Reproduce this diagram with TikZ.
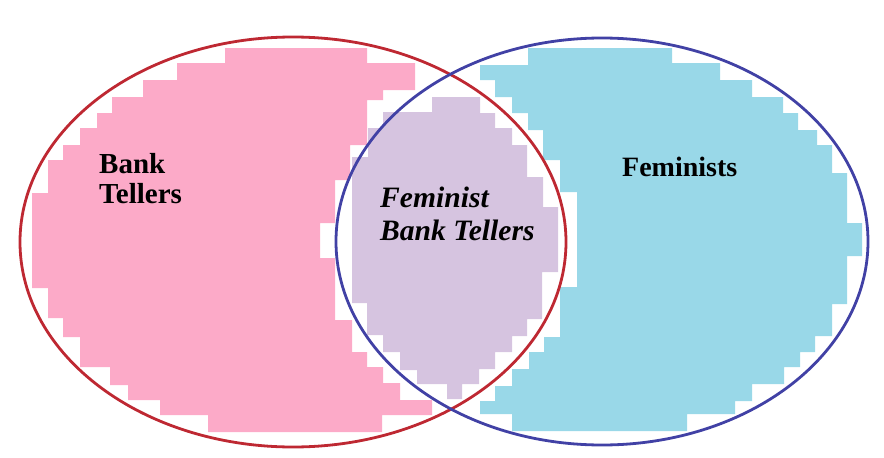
\documentclass[tikz,border=0pt]{standalone}
\usepackage{fontspec}
\setmainfont{Liberation Serif}
\definecolor{pinkfill}{RGB}{252,170,200}
\definecolor{bluefill}{RGB}{153,216,232}
\definecolor{lavfill}{RGB}{214,196,224}
\definecolor{redline}{RGB}{190,40,50}
\definecolor{blueline}{RGB}{65,65,165}
\tikzset{
  venn/.style={line width=2.8pt},
  boldlabel/.style={anchor=base west, inner sep=0pt, font=\fontsize{28}{30}\selectfont\bfseries},
  bigboldlabel/.style={anchor=base west, inner sep=0pt, font=\fontsize{29}{31}\selectfont\bfseries},
  itlabel/.style={anchor=base west, inner sep=0pt, font=\fontsize{29.6}{31}\selectfont\bfseries\itshape}
}
\begin{document}
\begin{tikzpicture}[x=1pt,y=-1pt]
\useasboundingbox (0,0) rectangle (884,458);
% pink blob
\fill[pinkfill] (225,48) -- (367,48) -- (367,63) -- (415,63) -- (415,90) -- (383,90) -- (383,100) -- (367,100) -- (367,145) -- (350,145) -- (350,180) -- (335,180) -- (335,223) -- (320,223) -- (320,258) -- (335,258) -- (335,320) -- (352,320) -- (352,352) -- (367,352) -- (367,367) -- (383,367) -- (383,383) -- (400,383) -- (400,400) -- (432,400) -- (432,415) -- (382,415) -- (382,432) -- (208,432) -- (208,415) -- (160,415) -- (160,400) -- (128,400) -- (128,385) -- (110,385) -- (110,367) -- (80,367) -- (80,337) -- (63,337) -- (63,318) -- (48,318) -- (48,288) -- (32,288) -- (32,193) -- (48,193) -- (48,160) -- (63,160) -- (63,145) -- (80,145) -- (80,128) -- (97,128) -- (97,113) -- (112,113) -- (112,97) -- (143,97) -- (143,80) -- (177,80) -- (177,63) -- (225,63) -- cycle;
% blue blob
\fill[bluefill] (528,48) -- (672,48) -- (672,63) -- (720,63) -- (720,80) -- (752,80) -- (752,97) -- (783,97) -- (783,113) -- (798,113) -- (798,130) -- (817,130) -- (817,145) -- (832,145) -- (832,173) -- (847,173) -- (847,223) -- (862,223) -- (862,256) -- (847,256) -- (847,304) -- (832,304) -- (832,336) -- (815,336) -- (815,352) -- (800,352) -- (800,367) -- (784,367) -- (784,384) -- (752,384) -- (752,401) -- (735,401) -- (735,414) -- (687,414) -- (687,431) -- (512,431) -- (512,414) -- (480,414) -- (480,401) -- (495,401) -- (495,386) -- (512,386) -- (512,369) -- (529,369) -- (529,352) -- (544,352) -- (544,337) -- (560,337) -- (560,287) -- (577,287) -- (577,192) -- (560,192) -- (560,160) -- (543,160) -- (543,130) -- (528,130) -- (528,113) -- (512,113) -- (512,97) -- (495,97) -- (495,80) -- (480,80) -- (480,65) -- (528,65) -- cycle;
% lavender blob
\fill[lavfill] (432,97) -- (480,97) -- (480,113) -- (495,113) -- (495,128) -- (512,128) -- (512,145) -- (527,145) -- (527,177) -- (543,177) -- (543,207) -- (558,207) -- (558,272) -- (542,272) -- (542,319) -- (527,319) -- (527,336) -- (512,336) -- (512,352) -- (495,352) -- (495,369) -- (479,369) -- (479,384) -- (462,384) -- (462,399) -- (447,399) -- (447,384) -- (417,384) -- (417,370) -- (400,370) -- (400,352) -- (383,352) -- (383,335) -- (367,335) -- (367,303) -- (352,303) -- (352,157) -- (368,157) -- (368,128) -- (383,128) -- (383,112) -- (432,112) -- cycle;
% circles
\draw[venn, redline] (293,242) ellipse [x radius=273pt, y radius=205pt];
\draw[venn, blueline] (602,241.5) ellipse [x radius=266pt, y radius=203.5pt];
% labels
\node[bigboldlabel] (bank1) at (99,173) {Bank};
\node[bigboldlabel] (bank2) at (99,203) {Tellers};
\node[boldlabel] (fem) at (622,176) {Feminists};
\node[itlabel] (fbt1) at (380,207) {Feminist};
\node[itlabel] (fbt2) at (380,240) {Bank Tellers};
\end{tikzpicture}
\end{document}
